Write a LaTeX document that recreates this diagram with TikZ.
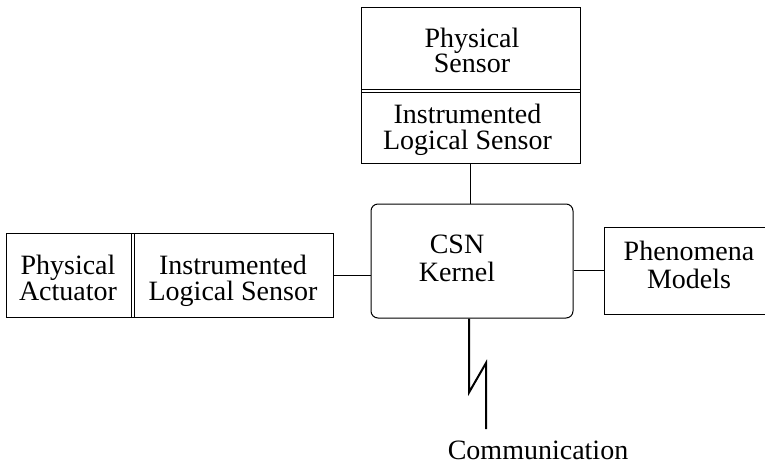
\documentclass[tikz,border=0pt]{standalone}
\usepackage{fontspec}
\setmainfont{Liberation Serif}
\begin{document}
\begin{tikzpicture}[x=1pt,y=-1pt,
  box/.style={draw,line width=1pt,inner sep=0pt,minimum width=#1},
  lbl/.style={inner sep=0pt,align=center,font=\fontsize{28}{#1}\selectfont},
  wire/.style={line width=1pt},
  bolt/.style={line width=2pt}]
\useasboundingbox (0,0) rectangle (765,464);

% sensor stack above the kernel
\node[box=219pt,minimum height=85pt] (physsensor) at (470.5,49.5) {};
\node[box=219pt,minimum height=74pt] (ilstop) at (470.5,126) {};
\node[lbl=24pt] (physsensortext) at (472,50.5) {Physical\\Sensor};
\node[lbl=26pt] (ilstoptext) at (467.5,129.5) {Instrumented\\Logical Sensor};

% actuator stack on the left
\node[box=128pt,minimum height=84pt] (physact) at (70,275) {};
\node[box=202pt,minimum height=84pt] (ilsleft) at (232,275) {};
\node[lbl=26pt] (physacttext) at (68,277.5) {Physical\\Actuator};
\node[lbl=26pt] (ilslefttext) at (233,280.5) {Instrumented\\Logical Sensor};

% kernel
\node[box=202pt,minimum height=114pt,rounded corners=7pt] (kernel) at (472,261) {};
\node[lbl=28pt] (kerneltext) at (457,258) {CSN\\Kernel};

% phenomena models
\node[box=170pt,minimum height=87pt] (phen) at (689,270.5) {};
\node[lbl=28pt] (phentext) at (689,264.5) {Phenomena\\Models};

% connectors
\draw[wire] (ilstop.south) -- (ilstop.south |- kernel.north);
\draw[wire] (ilsleft.east) -- (ilsleft.east -| kernel.west);
\draw[wire] (phen.west) -- (phen.west -| kernel.east);

% communication link
\coordinate (commend) at (486,429);
\draw[bolt] ([xshift=-3pt]kernel.south) -- ++(0,74) -- (486,363) -- (commend);
\node[inner sep=0pt,anchor=base,font=\fontsize{28}{28}\selectfont] (commtext) at (538,459) {Communication};
\end{tikzpicture}
\end{document}
